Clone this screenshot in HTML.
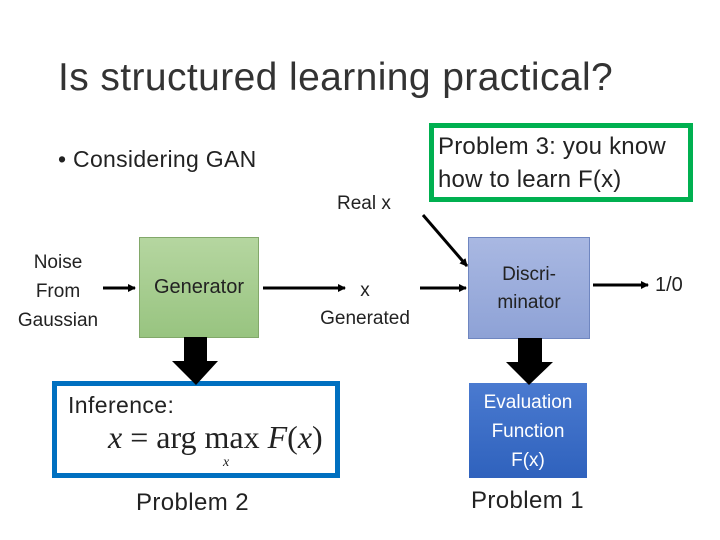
<!DOCTYPE html>
<html><head><style>
body{margin:0;width:720px;height:540px;background:#fff;position:relative;overflow:hidden;font-family:"Liberation Sans","DejaVu Sans",sans-serif;color:#222}
.t{position:absolute;white-space:nowrap}
.c{text-align:center}
</style></head><body>
<div class="t" style="left:58px;top:56px;font-size:39px;color:#333;letter-spacing:0.4px">Is structured learning practical?</div>
<div class="t" style="left:58px;top:146px;font-size:23px;letter-spacing:0.3px">• Considering GAN</div>
<div class="t" style="left:337px;top:193px;font-size:19px">Real x</div>
<div style="position:absolute;left:429px;top:123px;width:254px;height:69px;border:5px solid #00b050"></div>
<div class="t" style="left:438px;top:130px;font-size:24px;line-height:33px;letter-spacing:0.2px">Problem 3: you know<br>how to learn F(x)</div>

<div class="t c" style="left:6px;top:248px;width:104px;font-size:19px;line-height:29px">Noise<br>From<br>Gaussian</div>
<div style="position:absolute;left:139px;top:237px;width:118px;height:99px;border:1px solid #82a86a;background:linear-gradient(#b5d6a0,#98c480)"></div>
<div class="t c" style="left:139px;top:276px;width:120px;font-size:20px">Generator</div>
<div class="t c" style="left:305px;top:277px;width:120px;font-size:19px;line-height:28px">x<br>Generated</div>
<div style="position:absolute;left:468px;top:237px;width:120px;height:100px;border:1px solid #6f86c0;background:linear-gradient(#a9b8e2,#8ea2d6)"></div>
<div class="t c" style="left:468px;top:261px;width:122px;font-size:19px;line-height:28px">Discri-<br>minator</div>
<div class="t" style="left:655px;top:274px;font-size:20px">1/0</div>

<div style="position:absolute;left:52px;top:381px;width:278px;height:87px;border:5px solid #0070c0"></div>
<div class="t" style="left:68px;top:392px;font-size:23px;letter-spacing:0.4px">Inference:</div>
<div class="t" style="left:108px;top:419px;font-size:32px;font-family:'Liberation Serif',serif"><i>x</i> = arg max <i>F</i>(<i>x</i>)</div>
<div class="t" style="left:223px;top:455px;font-size:14px;font-family:'Liberation Serif',serif"><i>x</i></div>
<div class="t" style="left:136px;top:489px;font-size:24px;letter-spacing:0.4px">Problem 2</div>

<div style="position:absolute;left:469px;top:383px;width:118px;height:95px;background:linear-gradient(#4a7ad0,#2f62bd)"></div>
<div class="t c" style="left:469px;top:388px;width:118px;font-size:19px;line-height:29px;color:#fff">Evaluation<br>Function<br>F(x)</div>
<div class="t" style="left:471px;top:487px;font-size:24px;letter-spacing:0.4px">Problem 1</div>

<svg width="720" height="540" style="position:absolute;left:0;top:0">
<defs><marker id="a" markerWidth="8" markerHeight="8" refX="7" refY="4" orient="auto" markerUnits="userSpaceOnUse"><path d="M0,0L8,4L0,8z" fill="#000"/></marker></defs>
<g stroke="#000" stroke-width="3" marker-end="url(#a)">
<line x1="103" y1="288" x2="135" y2="288"/>
<line x1="263" y1="288" x2="345" y2="288"/>
<line x1="420" y1="288" x2="466" y2="288"/>
<line x1="593" y1="285" x2="648" y2="285"/>
<line x1="423" y1="215" x2="467" y2="266"/>
</g>
<path d="M184,337H207V361H218L196,385L172,361H184Z" fill="#000"/>
<path d="M518,338H542V362H553L529,385L506,362H518Z" fill="#000"/>
</svg>
</body></html>
